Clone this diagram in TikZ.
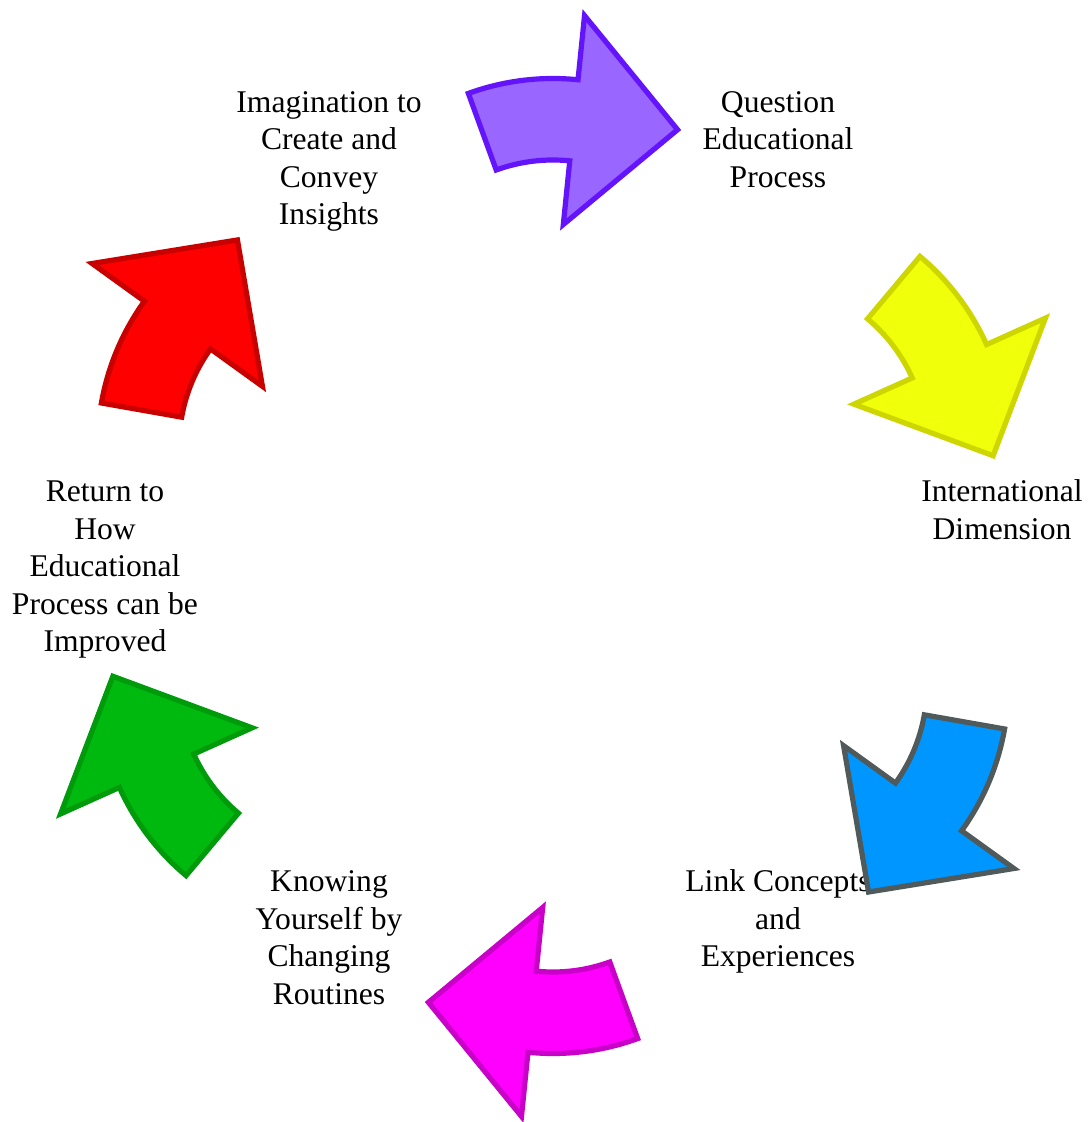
\documentclass[tikz,border=0pt]{standalone}
\usepackage{fontspec}
\setmainfont{Liberation Serif}
\usepackage{tikz}

\definecolor{violetfill}{RGB}{153,102,255}
\definecolor{violetline}{RGB}{100,20,250}
\definecolor{yellowfill}{RGB}{240,255,10}
\definecolor{yellowline}{RGB}{205,214,0}
\definecolor{bluefill}{RGB}{0,150,255}
\definecolor{blueline}{RGB}{80,90,90}
\definecolor{magentafill}{RGB}{255,0,255}
\definecolor{magentaline}{RGB}{200,0,200}
\definecolor{greenfill}{RGB}{0,185,15}
\definecolor{greenline}{RGB}{0,155,10}
\definecolor{redfill}{RGB}{255,0,0}
\definecolor{redline}{RGB}{200,0,0}

\newcommand{\cyclearrowpath}{(110:247.5) arc[start angle=110, end angle=84.2, radius=247.5] -- (84.2:312) -- (57.6:232.5) -- (84.2:102) -- (84.2:166) arc[start angle=84.2, end angle=110, radius=166] -- cycle}

\tikzset{
    steplabel/.style={align=center, anchor=base, inner sep=0pt, font=\fontsize{15.8pt}{18.75pt}\selectfont},
    cyclearrow/.style={line width=2.6pt, line join=miter, shift={(0,240)}}
}

\begin{document}
\begin{tikzpicture}[x=0.5pt, y=0.5pt]
    \useasboundingbox (-553,-556) rectangle (536,566);

    \node[steplabel] (imagination) at (-224,341.2) {Imagination to\\Create and\\Convey\\Insights};
    \node[steplabel] (question) at (225,378.7) {Question\\Educational\\Process};
    \node[steplabel] (international) at (449,26.8) {International\\Dimension};
    \node[steplabel] (link) at (225,-400.7) {Link Concepts\\and\\Experiences};
    \node[steplabel] (knowing) at (-224,-438.2) {Knowing\\Yourself by\\Changing\\Routines};
    \node[steplabel] (return) at (-448,-85.7) {Return to\\How\\Educational\\Process can be\\Improved};

    \draw[rotate=0, cyclearrow, fill=violetfill, draw=violetline] \cyclearrowpath;
    \draw[rotate=-60, cyclearrow, fill=yellowfill, draw=yellowline] \cyclearrowpath;
    \draw[rotate=-120, cyclearrow, fill=bluefill, draw=blueline] \cyclearrowpath;
    \draw[rotate=180, cyclearrow, fill=magentafill, draw=magentaline] \cyclearrowpath;
    \draw[rotate=120, cyclearrow, fill=greenfill, draw=greenline] \cyclearrowpath;
    \draw[rotate=60, cyclearrow, fill=redfill, draw=redline] \cyclearrowpath;
\end{tikzpicture}
\end{document}
